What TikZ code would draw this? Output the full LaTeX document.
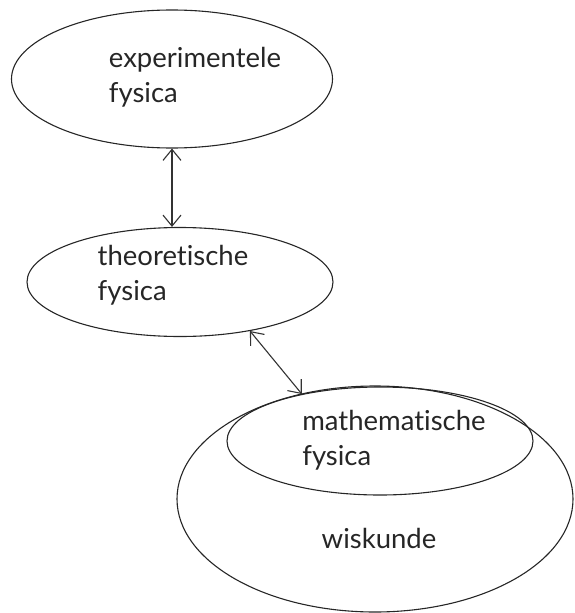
\documentclass[tikz,border=0pt]{standalone}
\usepackage{fontspec}
\setmainfont[Ligatures={NoCommon,NoRequired,NoContextual}]{Lato}
\usetikzlibrary{shapes.geometric,arrows.meta}

\begin{document}
\begin{tikzpicture}[
    x=1pt, y=-1pt,
    blob/.style={
        draw=black!85, ellipse, line width=1.1pt, inner sep=0pt
    },
    txt/.style={
        align=left, font=\fontsize{27.5}{35}\selectfont, text=black!85
    },
    biarr/.style={
        {Straight Barb[length=11pt,width=18pt]}-{Straight Barb[length=11pt,width=18pt]},
        line width=1.1pt, draw=black!80
    }
]
\useasboundingbox (0,0) rectangle (574,613);

% Ellipsen
\node[blob, minimum width=321pt, minimum height=138pt] (exp)  at (172,79)  {};
\node[blob, minimum width=306pt, minimum height=109pt] (theo) at (180,282) {};
\node[blob, minimum width=396pt, minimum height=226pt] (wis)  at (375,499) {};
\node[blob, minimum width=306pt, minimum height=108pt] (math) at (380,441) {};

% Teksten
\node[txt] (exptxt)  at (195,77)  {experimentele\\fysica};
\node[txt] (theotxt) at (173,275) {theoretische\\fysica};
\node[txt] (mathtxt) at (394,440) {mathematische\\fysica};
\node[txt] (wistxt)  at (379,538) {wiskunde};

% Pijlen
\draw[biarr] (exp.south) -- (exp.south |- theo.north);
\draw[biarr] (theo.-35) -- (math.149);

\end{tikzpicture}
\end{document}
